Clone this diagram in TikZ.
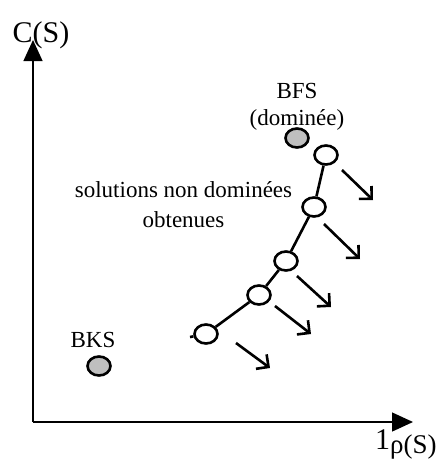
\documentclass[tikz,border=0pt]{standalone}
\usepackage{fontspec}
\setmainfont{Liberation Serif}
\usetikzlibrary{arrows.meta,shapes.geometric}
\begin{document}
\begin{tikzpicture}[x=1pt,y=-1pt,
  axis/.style={line width=1.3pt,-{Triangle[length=21pt,width=19pt]}},
  sol/.style={ellipse,draw,line width=2.6pt,fill=white,minimum width=23pt,minimum height=19pt,inner sep=0pt},
  ref/.style={sol,fill=gray!50},
  link/.style={line width=2.6pt},
  dir/.style={line width=2.6pt,-{Straight Barb[length=9pt,width=18pt]}},
  lbl/.style={anchor=base,inner sep=0pt,font=\fontsize{23}{27}\selectfont},
  axlbl/.style={anchor=base,inner sep=0pt,font=\fontsize{30}{34}\selectfont}]
\useasboundingbox (0,0) rectangle (439,459);
% axes
\coordinate (O) at (33,422);
\coordinate (ytop) at (33,40);
\coordinate (xend) at (413,422);
\draw[axis] (O) -- (ytop);
\draw[axis] (O) -- (xend);
\node[axlbl] (cs) at (41,42) {C(S)};
\node[axlbl,anchor=base west] (xs) at (375,449) {1\raisebox{-4pt}{\fontsize{27}{30}\selectfont ρ(S)}};
% reference points
\node[ref] (bks) at (99,366) {};
\node[lbl] (bkst) at (93,347) {BKS};
\node[ref] (bfs) at (297,138) {};
\node[lbl] (bfst) at (297,98) {BFS};
\node[lbl] (bfsd) at (297,125) {(dominée)};
% text
\node[lbl] (t1) at (183.5,197) {solutions non dominées};
\node[lbl] (t2) at (183.5,227) {obtenues};
% solutions
\node[sol] (e1) at (326,155) {};
\node[sol] (e2) at (314,207) {};
\node[sol] (e3) at (286,261) {};
\node[sol] (e4) at (259,295) {};
\node[sol] (e5) at (206,334) {};
\coordinate (stub) at (190,337);
\draw[link] (e1) -- (e2);
\draw[link] (e2) -- (e3);
\draw[link] (e3) -- (e4);
\draw[link] (e4) -- (e5);
\draw[link] (e5) -- (stub);
% direction arrows
\coordinate (a1s) at (342,170); \coordinate (a1e) at (373,200);
\coordinate (a2s) at (324,224); \coordinate (a2e) at (360,259);
\coordinate (a3s) at (297,276); \coordinate (a3e) at (331,307);
\coordinate (a4s) at (275,306); \coordinate (a4e) at (311,334);
\coordinate (a5s) at (236,343); \coordinate (a5e) at (270,368);
\draw[dir] (a1s) -- (a1e);
\draw[dir] (a2s) -- (a2e);
\draw[dir] (a3s) -- (a3e);
\draw[dir] (a4s) -- (a4e);
\draw[dir] (a5s) -- (a5e);
\end{tikzpicture}
\end{document}
